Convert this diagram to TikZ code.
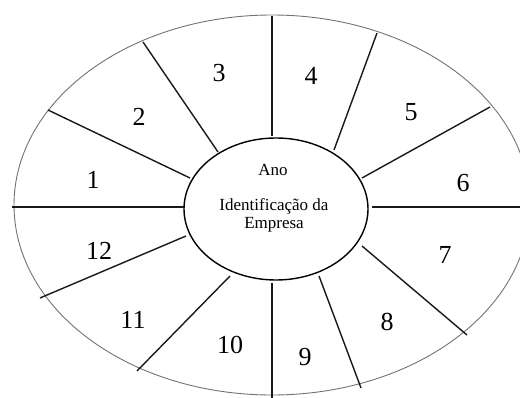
\documentclass[tikz,border=0pt]{standalone}
\usepackage{fontspec}
\setmainfont{Liberation Serif}
\usetikzlibrary{shapes.geometric}
\begin{document}
\begin{tikzpicture}[x=1pt,y=-1pt,
  divider/.style={line width=1.4pt,draw=black!90},
  numlabel/.style={inner sep=0pt,font=\fontsize{26pt}{28pt}\selectfont},
  corelabel/.style={inner sep=0pt,anchor=base,font=\fontsize{17pt}{19pt}\selectfont}]
\useasboundingbox (0,0) rectangle (520,398);
\fill[white] (0,0) rectangle (520,398);
\clip (0,0) rectangle (520,398);
% outer ellipse
\draw[line width=0.9pt,draw=black!55] (272,205) ellipse [x radius=258pt, y radius=190pt];
% inner ellipse
\node[draw,ellipse,line width=1.4pt,inner sep=0pt,outer sep=0pt,
      minimum width=184pt,minimum height=142pt] (core) at (276,209) {};
% end points
\coordinate (o1) at (48,110);   \coordinate (i1) at (190,178);
\coordinate (o2) at (143,42);   \coordinate (i2) at (218,152);
\coordinate (o3) at (272,16);   \coordinate (i3) at (272,136);
\coordinate (o4) at (377,33);   \coordinate (i4) at (334,150);
\coordinate (o5) at (490,107);  \coordinate (i5) at (362,178);
\coordinate (o6) at (522,207);  \coordinate (i6) at (372,207);
\coordinate (o7) at (467,335);  \coordinate (i7) at (362,246);
\coordinate (o8) at (361,388);  \coordinate (i8) at (319,276);
\coordinate (o9) at (272,400);  \coordinate (i9) at (272,283);
\coordinate (o10) at (137,371); \coordinate (i10) at (230,276);
\coordinate (o11) at (40,298);  \coordinate (i11) at (186,236);
\coordinate (o12) at (12,207);  \coordinate (i12) at (184,207);
\foreach \k in {1,...,12} { \draw[divider] (i\k) -- (o\k); }
% sector labels
\node[numlabel] (n1) at (93,180) {1};
\node[numlabel] (n2) at (139,117) {2};
\node[numlabel] (n3) at (219,73) {3};
\node[numlabel] (n4) at (311,76) {4};
\node[numlabel] (n5) at (411,112) {5};
\node[numlabel] (n6) at (463,183) {6};
\node[numlabel] (n7) at (445,255) {7};
\node[numlabel] (n8) at (387,322) {8};
\node[numlabel] (n9) at (305,357) {9};
\node[numlabel] (n10) at (230,345) {10};
\node[numlabel] (n11) at (133,320) {11};
\node[numlabel] (n12) at (99,251) {12};
% centre text
\node[corelabel] (ano) at (273,176) {Ano};
\node[corelabel] (ident) at (274,211) {Identificação da};
\node[corelabel] (emp) at (274,228.5) {Empresa};
\end{tikzpicture}
\end{document}
